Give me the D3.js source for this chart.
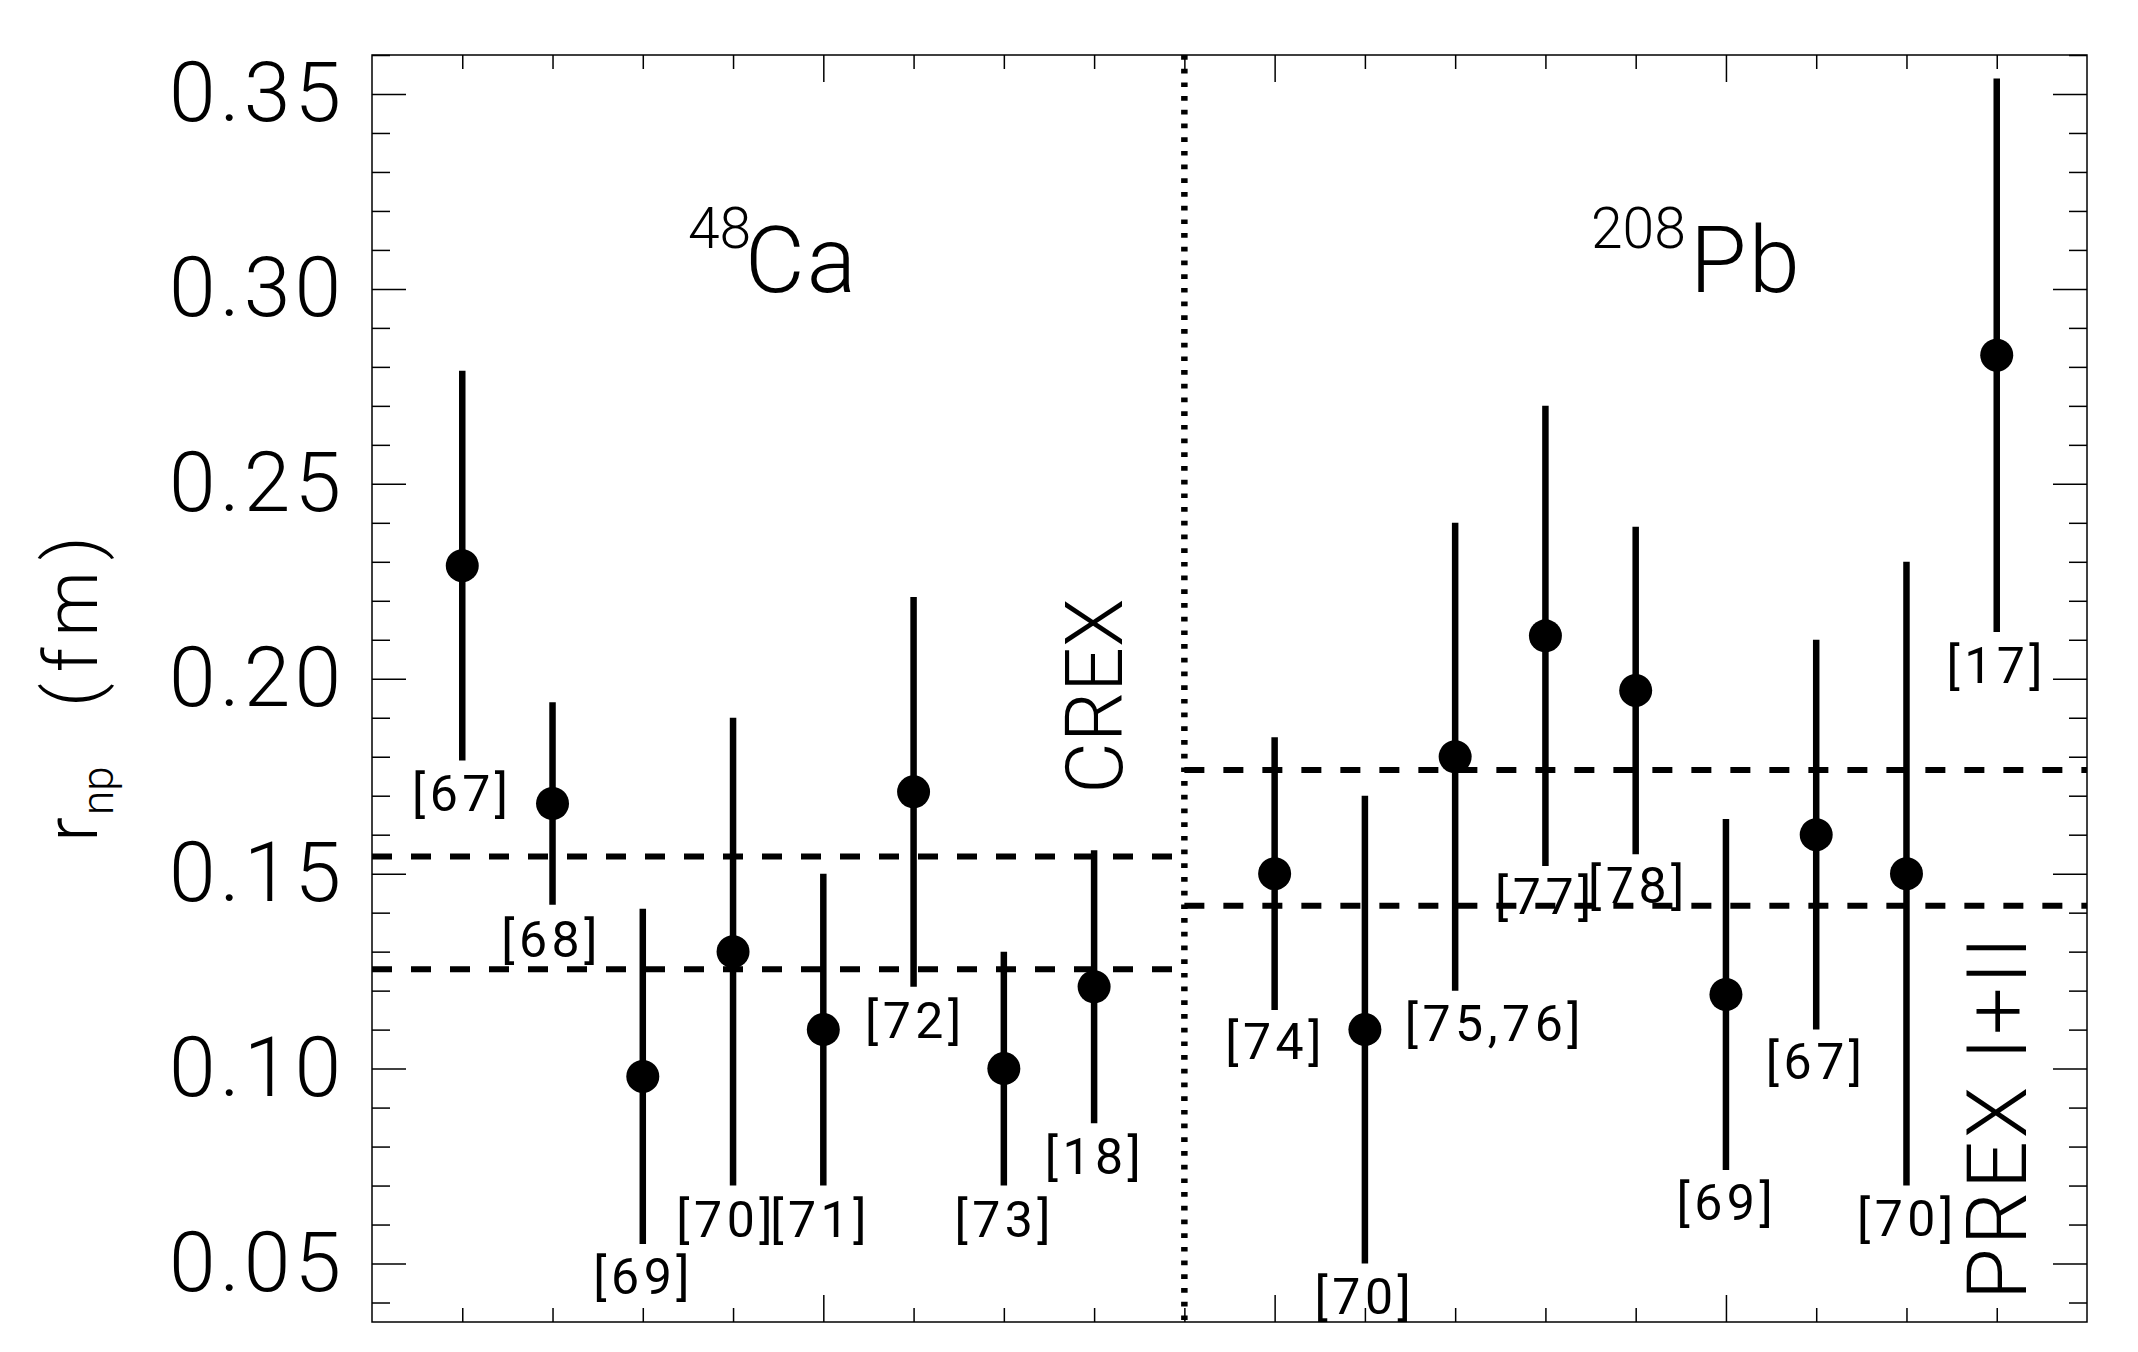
<!DOCTYPE html>
<html>
<head>
<meta charset="utf-8">
<script src="https://cdn.jsdelivr.net/npm/d3@7.9.0/dist/d3.min.js"></script>
<style>
  body { margin: 0; background: #fff; }
  svg { display: block; font-family: Roboto, "Liberation Sans", sans-serif; font-weight: 300; }
  .axis path { display: none; }
  .axis line { stroke: #000; stroke-width: 1.5; }
  .axis text { fill: #000; }
</style>
</head>
<body>
<svg id="chart" width="2138" height="1352"></svg>
<script>
// 48Ca measurements
const caPos = [1, 2, 3, 4, 5, 6, 7, 8];
const caRefs = ['[67]', '[68]', '[69]', '[70]', '[71]', '[72]', '[73]', '[18]'];
const caVal = [0.229, 0.168, 0.098, 0.130, 0.110, 0.171, 0.100, 0.121];
const caLo = [0.179, 0.142, 0.055, 0.070, 0.070, 0.121, 0.070, 0.086];
const caHi = [0.279, 0.194, 0.141, 0.190, 0.150, 0.221, 0.130, 0.156];
const caBand = [0.1255, 0.1544];

// 208Pb measurements
const pbPos = [10, 11, 12, 13, 14, 15, 16, 17, 18];
const pbRefs = ['[74]', '[70]', '[75,76]', '[77]', '[78]', '[69]', '[67]', '[70]', '[17]'];
const pbVal = [0.150, 0.110, 0.180, 0.211, 0.197, 0.119, 0.160, 0.150, 0.283];
const pbLo = [0.115, 0.050, 0.120, 0.152, 0.155, 0.074, 0.110, 0.070, 0.212];
const pbHi = [0.185, 0.170, 0.240, 0.270, 0.239, 0.164, 0.210, 0.230, 0.354];
const pbBand = [0.1418, 0.1766];

// where the reference labels sit (data units)
const caLabelX = [1.0, 1.99, 3.01, 3.93, 4.97, 6.02, 7.01, 8.01];
const caLabelY = [0.170, 0.1326, 0.0461, 0.0607, 0.0607, 0.1118, 0.0607, 0.0769];
const pbLabelX = [10.01, 11.0, 12.44, 13.0, 14.03, 15.01, 16.0, 17.01, 18.0];
const pbLabelY = [0.1064, 0.0409, 0.111, 0.1436, 0.1462, 0.065, 0.1011, 0.0609, 0.2028];

const yTicks = [0.05, 0.10, 0.15, 0.20, 0.25, 0.30, 0.35];
const divider = 9;

const svg = d3.select('#chart');
const plotL = 372, plotR = 2087, plotT = 55, plotB = 1322;

const x = d3.scaleLinear().domain([0, 19]).range([plotL, plotR]);
const y = d3.scaleLinear().domain([0.035, 0.36]).range([plotB, plotT]);

const yMinor = d3.range(4, 37).map((d) => d / 100).filter((d) => Math.round(d * 100) % 5 !== 0);
const xMajor = [5, 10, 15];
const xMinor = d3.range(1, 19).filter((d) => d % 5 !== 0);

// frame
svg.append('rect')
  .attr('x', plotL).attr('y', plotT)
  .attr('width', plotR - plotL).attr('height', plotB - plotT)
  .attr('fill', 'none').attr('stroke', '#000').attr('stroke-width', 1.5);

function ticks(axis, tx, ty) {
  svg.append('g').attr('class', 'axis').attr('transform', `translate(${tx},${ty})`)
    .call(axis).selectAll('text').remove();
}
ticks(d3.axisRight(y).tickValues(yTicks).tickSize(34), plotL, 0);
ticks(d3.axisRight(y).tickValues(yMinor).tickSize(18), plotL, 0);
ticks(d3.axisLeft(y).tickValues(yTicks).tickSize(34), plotR, 0);
ticks(d3.axisLeft(y).tickValues(yMinor).tickSize(18), plotR, 0);
ticks(d3.axisBottom(x).tickValues(xMajor).tickSize(27), 0, plotT);
ticks(d3.axisBottom(x).tickValues(xMinor).tickSize(14), 0, plotT);
ticks(d3.axisTop(x).tickValues(xMajor).tickSize(27), 0, plotB);
ticks(d3.axisTop(x).tickValues(xMinor).tickSize(14), 0, plotB);

// y tick labels
svg.append('g').attr('class', 'axis')
  .attr('transform', `translate(${plotL},0)`)
  .call(d3.axisLeft(y).tickValues(yTicks).tickSize(0).tickPadding(27).tickFormat(d3.format('.2f')))
  .selectAll('text')
  .attr('font-size', 84)
  .attr('font-family', 'Roboto, "Liberation Sans", sans-serif')
  .style('letter-spacing', '4px');

// dashed bands
caBand.forEach((v) => {
  svg.append('line')
    .attr('x1', x(0)).attr('x2', x(divider))
    .attr('y1', y(v)).attr('y2', y(v))
    .attr('stroke', '#000').attr('stroke-width', 6).attr('stroke-dasharray', '20 19');
});
pbBand.forEach((v) => {
  svg.append('line')
    .attr('x1', x(divider)).attr('x2', x(19))
    .attr('y1', y(v)).attr('y2', y(v))
    .attr('stroke', '#000').attr('stroke-width', 6).attr('stroke-dasharray', '20 19');
});

// dotted divider
svg.append('line')
  .attr('x1', x(divider)).attr('x2', x(divider))
  .attr('y1', plotT).attr('y2', plotB)
  .attr('stroke', '#000').attr('stroke-width', 6.5).attr('stroke-dasharray', '4.7 9');

function drawSet(pos, val, lo, hi, refs, lx, ly) {
  const g = svg.append('g');
  pos.forEach((p, i) => {
    g.append('line')
      .attr('x1', x(p)).attr('x2', x(p))
      .attr('y1', y(lo[i])).attr('y2', y(hi[i]))
      .attr('stroke', '#000').attr('stroke-width', 6.5);
    g.append('circle')
      .attr('cx', x(p)).attr('cy', y(val[i])).attr('r', 16.5)
      .attr('fill', '#000');
    g.append('text')
      .attr('x', x(lx[i])).attr('y', y(ly[i]))
      .attr('dy', '0.3em')
      .attr('text-anchor', 'middle')
      .attr('font-size', 50)
      .attr('font-weight', 400)
      .style('letter-spacing', '4.5px')
      .text(refs[i]);
  });
}
drawSet(caPos, caVal, caLo, caHi, caRefs, caLabelX, caLabelY);
drawSet(pbPos, pbVal, pbLo, pbHi, pbRefs, pbLabelX, pbLabelY);

// nucleus titles
function nucleus(mass, sym, xMass, xSym) {
  svg.append('text').attr('x', xMass).attr('y', 248).attr('font-size', 57).text(mass);
  svg.append('text').attr('x', xSym).attr('y', 292).attr('font-size', 92)
    .style('letter-spacing', '2px').text(sym);
}
nucleus('48', 'Ca', 688, 745);
nucleus('208', 'Pb', 1591, 1690);

// experiment names
svg.append('text')
  .attr('transform', 'translate(1122,696) rotate(-90)')
  .attr('text-anchor', 'middle')
  .attr('font-size', 79)
  .text('CREX');
svg.append('text')
  .attr('transform', 'translate(2026,1300) rotate(-90)')
  .attr('font-size', 84)
  .style('letter-spacing', '3px')
  .style('white-space', 'pre')
  .text('PREX I+II');

// y axis title
const yt = svg.append('text')
  .attr('transform', 'translate(97,842) rotate(-90)')
  .attr('font-size', 74);
yt.append('tspan').text('r');
yt.append('tspan').attr('font-size', 44).attr('dy', 16).attr('dx', 2).text('np');
yt.append('tspan').attr('x', 135).attr('dy', -16).style('letter-spacing', '11px').text('(fm)');
</script>
</body>
</html>
